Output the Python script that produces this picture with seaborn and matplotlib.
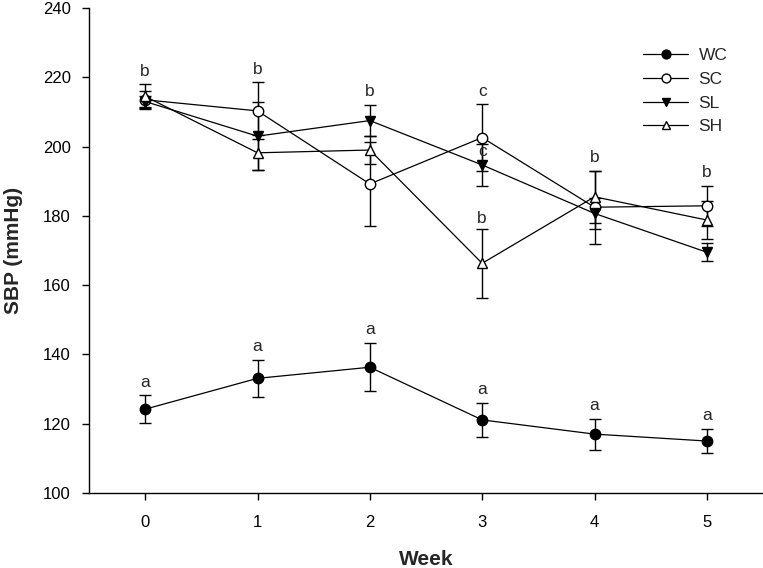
import numpy as np
import pandas as pd
import seaborn as sns
import matplotlib.pyplot as plt

# Semanas e valores médios (SBP, mmHg)
weeks = [0, 1, 2, 3, 4, 5]

wc_mean = [124.2, 133.1, 136.3, 121.1, 117.0, 115.0]
wc_err = [4.0, 5.3, 7.0, 5.0, 4.5, 3.5]

sc_mean = [213.5, 210.3, 189.2, 202.6, 182.5, 182.9]
sc_err = [2.6, 8.2, 12.0, 9.6, 10.5, 5.7]

sl_mean = [213.0, 203.0, 207.5, 194.7, 180.7, 169.5]
sl_err = [1.5, 9.8, 4.5, 6.0, 4.5, 2.6]

sh_mean = [214.5, 198.2, 199.0, 166.3, 185.5, 178.8]
sh_err = [3.5, 5.0, 4.0, 10.0, 7.5, 5.6]

# Letras de significância
wc_letters = ["a", "a", "a", "a", "a", "a"]
top_letters = ["b", "b", "b", "c", "b", "b"]

sns.set_style("ticks")
plt.rcParams["font.family"] = ["Liberation Sans", "DejaVu Sans"]

series = {
    "WC": (wc_mean, wc_err, dict(marker="o", markerfacecolor="black")),
    "SC": (sc_mean, sc_err, dict(marker="o", markerfacecolor="white")),
    "SL": (sl_mean, sl_err, dict(marker="v", markerfacecolor="black")),
    "SH": (sh_mean, sh_err, dict(marker="^", markerfacecolor="white")),
}

fig = plt.figure(figsize=(7.63, 5.68), dpi=100)
ax = fig.add_axes([89 / 763, 75 / 568, 674 / 763, 485 / 568])

for nome, (media, erro, estilo) in series.items():
    ax.errorbar(weeks, media, yerr=erro, fmt="none", ecolor="black",
                elinewidth=1.0, capsize=4.5, capthick=1.0, zorder=2)
    df = pd.DataFrame({"Week": weeks, "SBP": media})
    sns.lineplot(data=df, x="Week", y="SBP", ax=ax, color="black",
                 linewidth=0.9, markersize=7.5, markeredgecolor="black",
                 markeredgewidth=1.0, label=nome, zorder=3, **estilo)

# Letras acima das barras de erro
for i, w in enumerate(weeks):
    topo_wc = wc_mean[i] + wc_err[i]
    ax.text(w, topo_wc + 3.8, wc_letters[i], ha="center", va="center", fontsize=12.5)
    topo = max(sc_mean[i] + sc_err[i], sl_mean[i] + sl_err[i], sh_mean[i] + sh_err[i])
    ax.text(w, topo + 3.8, top_letters[i], ha="center", va="center", fontsize=12.5)

# Letras extras na semana 3
ax.text(3, sl_mean[3] + 3.9, "c", ha="center", va="center", fontsize=12.5)
ax.text(3, sh_mean[3] + sh_err[3] + 3.0, "b", ha="center", va="center", fontsize=12.5)

ax.set_xlim(-0.5, 5.5)
ax.set_ylim(100, 240)
ax.set_xticks(weeks)
ax.set_yticks(np.arange(100, 241, 20))
ax.tick_params(axis="both", direction="out", length=5, width=1.0, labelsize=12,
               colors="black")
ax.tick_params(axis="x", pad=11)
ax.tick_params(axis="y", pad=8)
sns.despine(ax=ax)
for s in ["left", "bottom"]:
    ax.spines[s].set_linewidth(1.0)
    ax.spines[s].set_color("black")

ax.set_xlabel("Week", fontsize=15, fontweight="bold", labelpad=14)
ax.set_ylabel("SBP (mmHg)", fontsize=15, fontweight="bold", labelpad=14)
ax.grid(False)

ax.legend(loc="upper left", bbox_to_anchor=(0.822, 0.918), frameon=False,
          fontsize=12.5, handlelength=2.6, handletextpad=0.6, labelspacing=0.5,
          borderpad=0, borderaxespad=0, markerscale=0.85)

plt.savefig("out.png", dpi=100)
plt.close()
